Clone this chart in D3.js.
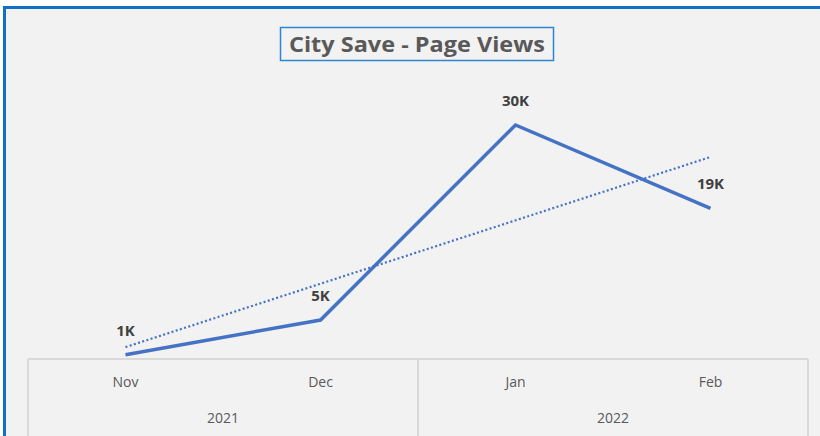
<!DOCTYPE html>
<html>
<head>
<meta charset="utf-8">
<script src="https://cdn.jsdelivr.net/npm/d3@7"></script>
<style>
  body { margin: 0; background: #fff; }
  text { font-family: "Open Sans", "Noto Sans", sans-serif; }
</style>
</head>
<body>
<div id="chart"></div>
<script>
// data
const months = ["Nov", "Dec", "Jan", "Feb"];
const years = ["2021", "2021", "2022", "2022"];
const views = [550, 5000, 30000, 19300];
const yearLabels = ["2021", "2022"];

const W = 820, H = 436;
const margin = {top: 86, right: 12, bottom: 77, left: 28};
const plotBottom = H - margin.bottom;

const svg = d3.select("#chart")
    .append("svg")
    .attr("width", W)
    .attr("height", H);

// chart background + blue frame
svg.append("rect")
    .attr("x", 4.5).attr("y", 7.5)
    .attr("width", W).attr("height", H)
    .attr("fill", "#f2f2f2")
    .attr("stroke", "#0f70c5")
    .attr("stroke-width", 3);

const x = d3.scaleBand()
    .domain(months)
    .range([margin.left, W - margin.right])
    .paddingInner(0).paddingOuter(0);
const cx = d => x(d) + x.bandwidth() / 2;

const y = d3.scaleLinear()
    .domain([0, 35000])
    .range([plotBottom, margin.top]);

// category axis: base line and group separators
const axisColor = "#d9d9d9";
svg.append("line")
    .attr("x1", margin.left).attr("x2", W - margin.right)
    .attr("y1", plotBottom).attr("y2", plotBottom)
    .attr("stroke", axisColor).attr("stroke-width", 2);

const sepX = [x(months[0]), x(months[2]), x(months[3]) + x.bandwidth()];
svg.selectAll(".sep")
    .data(sepX)
    .join("line")
    .attr("x1", d => d).attr("x2", d => d)
    .attr("y1", plotBottom).attr("y2", H)
    .attr("stroke", axisColor).attr("stroke-width", 2);

svg.selectAll(".month")
    .data(months)
    .join("text")
    .attr("x", d => cx(d))
    .attr("y", plotBottom + 28)
    .attr("text-anchor", "middle")
    .style("font-size", "14px")
    .style("fill", "#595959")
    .text(d => d);

svg.selectAll(".year")
    .data(yearLabels)
    .join("text")
    .attr("x", yr => {
        const ms = months.filter((m, i) => years[i] === yr);
        return (x(ms[0]) + x(ms[ms.length - 1]) + x.bandwidth()) / 2;
    })
    .attr("y", plotBottom + 64)
    .attr("text-anchor", "middle")
    .style("font-size", "14px")
    .style("fill", "#595959")
    .text(d => d);

// linear trendline (least squares over category index)
const idx = views.map((v, i) => i + 1);
const mx = d3.mean(idx), my = d3.mean(views);
const slope = d3.sum(idx, (t, i) => (t - mx) * (views[i] - my)) / d3.sum(idx, t => (t - mx) ** 2);
const icpt = my - slope * mx;
const trend = months.map((m, i) => [m, icpt + slope * (i + 1)]);

svg.append("path")
    .datum([trend[0], trend[trend.length - 1]])
    .attr("fill", "none")
    .attr("stroke", "#4472c4")
    .attr("stroke-width", 2.2)
    .attr("stroke-dasharray", "2,2.4")
    .attr("d", d3.line().x(d => cx(d[0])).y(d => y(d[1])));

// main line
const pts = months.map((m, i) => [m, views[i]]);
svg.append("path")
    .datum(pts)
    .attr("fill", "none")
    .attr("stroke", "#4472c4")
    .attr("stroke-width", 3.5)
    .attr("stroke-linejoin", "miter")
    .attr("d", d3.line().x(d => cx(d[0])).y(d => y(d[1])));

// data labels
svg.selectAll(".lbl")
    .data(pts)
    .join("text")
    .attr("x", d => cx(d[0]))
    .attr("y", d => y(d[1]) - 19)
    .attr("text-anchor", "middle")
    .style("font-size", "15px")
    .style("font-weight", "bold")
    .style("fill", "#404040")
    .text(d => Math.round(d[1] / 1000) + "K");

// title with box
svg.append("rect")
    .attr("x", 280.5).attr("y", 27.5)
    .attr("width", 273).attr("height", 33)
    .attr("fill", "none")
    .attr("stroke", "#2f86cf")
    .attr("stroke-width", 1.5);

svg.append("text")
    .attr("x", 417)
    .attr("y", 52)
    .attr("text-anchor", "middle")
    .attr("textLength", 256)
    .attr("lengthAdjust", "spacingAndGlyphs")
    .style("font-size", "21px")
    .style("font-weight", "bold")
    .style("fill", "#595959")
    .text("City Save - Page Views");
</script>
</body>
</html>
